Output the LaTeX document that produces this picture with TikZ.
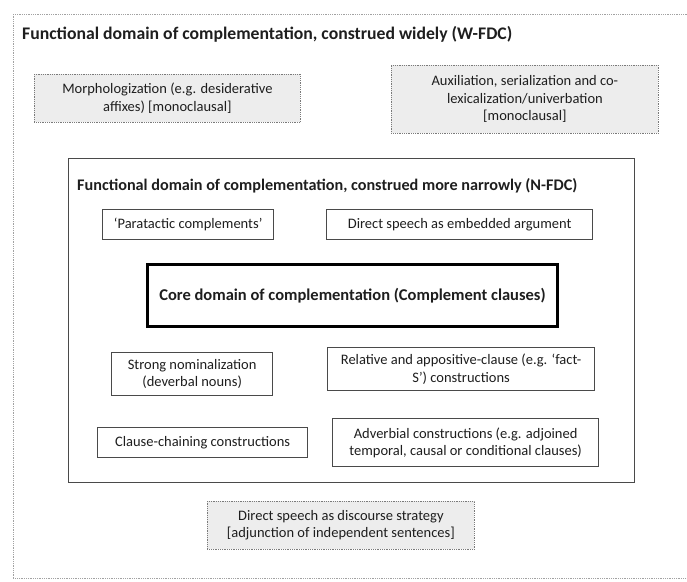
\documentclass[tikz,border=0pt]{standalone}
\usepackage{fontspec}
\setmainfont{Carlito}
\definecolor{boxfill}{HTML}{EDEDED}
\definecolor{edgegray}{HTML}{4A4A4A}
\definecolor{dotgray}{HTML}{7A7A7A}
\definecolor{inkgray}{HTML}{1E1E1E}
\tikzset{
    bodyfont/.style={font=\fontsize{14.5}{17.5}\selectfont},
    widebox/.style={rectangle, draw=dotgray!70, densely dotted, line width=0.8pt, anchor=north west, inner sep=0pt},
    narrowbox/.style={rectangle, draw=edgegray, line width=1.3pt, anchor=north west, inner sep=0pt},
    greybox/.style={rectangle, draw=dotgray, densely dotted, line width=0.8pt, fill=boxfill, anchor=north west, align=center, inner sep=0pt, bodyfont},
    plainbox/.style={rectangle, draw=edgegray, line width=1.3pt, fill=white, anchor=north west, align=center, inner sep=0pt, bodyfont},
    corebox/.style={plainbox, draw=black, line width=3pt, font=\bfseries\fontsize{16.5}{19}\selectfont},
    heading/.style={anchor=west, inner sep=0pt, font=\bfseries\fontsize{#1}{19}\selectfont}
}

\begin{document}
\begin{tikzpicture}[x=1pt, y=-1pt, text=inkgray]
    \useasboundingbox (0,0) rectangle (687,581);
    \node[widebox, minimum width=720pt, minimum height=564pt] (wide) at (13,14) {};
    \node[heading=17.7] (widetitle) at (22,34)
      {Functional domain of complementation, construed widely (W-FDC)};
    \node[greybox, minimum width=266pt, minimum height=48pt] (morph) at (34,74)
      {Morphologization (e.g. desiderative\\
      affixes) [monoclausal]};
    \node[greybox, minimum width=267pt, minimum height=68pt] (aux) at (391,65)
      {Auxiliation, serialization and co-\\
      lexicalization/univerbation\\
      {[monoclausal]}};
    \node[narrowbox, minimum width=566pt, minimum height=324pt] (narrow) at (68,158) {};
    \node[heading=16.2] (narrowtitle) at (77,186)
      {Functional domain of complementation, construed more narrowly (N-FDC)};
    \node[plainbox, minimum width=171pt, minimum height=30pt] (paratactic) at (102,209)
      {‘Paratactic complements’};
    \node[plainbox, minimum width=266pt, minimum height=30pt] (embedded) at (326,209)
      {Direct speech as embedded argument};
    \node[corebox, minimum width=410pt, minimum height=62pt] (core) at (146,263)
      {Core domain of complementation (Complement clauses)};
    \node[plainbox, minimum width=161pt, minimum height=43pt] (nominal) at (111,352)
      {Strong nominalization\\
      (deverbal nouns)};
    \node[plainbox, minimum width=267pt, minimum height=43pt] (relative) at (327,347)
      {Relative and appositive-clause (e.g. ‘fact-\\
      S’) constructions};
    \node[plainbox, minimum width=210pt, minimum height=30pt] (chaining) at (97,427)
      {Clause-chaining constructions};
    \node[plainbox, minimum width=266pt, minimum height=48pt] (adverbial) at (332,418)
      {Adverbial constructions (e.g. adjoined\\
      temporal, causal or conditional clauses)};
    \node[greybox, minimum width=267pt, minimum height=48pt] (discourse) at (207,501)
      {Direct speech as discourse strategy\\
      {[adjunction of independent sentences]}};
\end{tikzpicture}
\end{document}
